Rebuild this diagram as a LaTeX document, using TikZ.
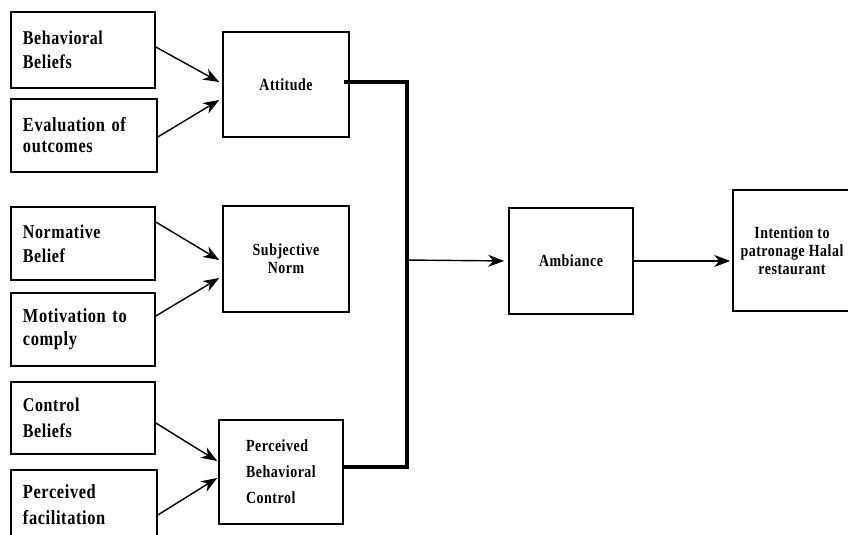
\documentclass[tikz,border=0pt]{standalone}
\usepackage{fontspec}
\newfontfamily\dgfont{Liberation Serif}[FakeStretch=0.82,LetterSpace=3]
\usetikzlibrary{arrows.meta,calc}
\tikzset{
  box/.style={draw, line width=1.6pt, rectangle, inner ysep=0pt},
  leftbox/.style={box, minimum width=#1, text width=#1-24pt, inner xsep=12pt, align=left,
     font=\dgfont\bfseries\fontsize{19.5}{24}\selectfont},
  midbox/.style={box, align=center, font=\dgfont\bfseries\fontsize{17}{18}\selectfont},
  arr/.style={line width=1.4pt, -{Stealth[length=16pt,width=12pt,inset=5pt]}},
  busline/.style={line width=3.5pt, line join=miter}
}
\begin{document}
\begin{tikzpicture}[x=1pt,y=-1pt]
\clip (0,0) rectangle (848,535);
\fill[white] (0,0) rectangle (848,535);
% left column
\node[leftbox=144pt, minimum height=76pt] (bb) at (83,50) {Behavioral\\Beliefs};
\node[leftbox=146pt, minimum height=73pt, font=\dgfont\bfseries\fontsize{20}{21}\selectfont] (eo) at (84,135.5) {Evaluation of\\outcomes};
\node[leftbox=144pt, minimum height=73pt] (nb) at (83,243.5) {Normative\\Belief};
\node[leftbox=144pt, minimum height=73pt, font=\dgfont\bfseries\fontsize{20}{23}\selectfont] (mc) at (83,329.5) {Motivation to\\comply};
\node[leftbox=144pt, minimum height=72pt, font=\dgfont\bfseries\fontsize{19.5}{26}\selectfont] (cb) at (83,418) {Control\\Beliefs};
\node[leftbox=146pt, minimum height=70pt, font=\dgfont\bfseries\fontsize{20}{26}\selectfont] (pf) at (84,505) {Perceived\\facilitation};
% middle column
\node[midbox, minimum width=126pt, minimum height=105pt] (att) at (286,84.5) {Attitude};
\node[midbox, minimum width=126pt, minimum height=106pt] (sn) at (286,259) {Subjective\\Norm};
\node[midbox, minimum width=124pt, minimum height=104pt, align=left,
      font=\dgfont\bfseries\fontsize{17}{26}\selectfont] (pbc) at (281,472) {Perceived\\Behavioral\\Control};
% right
\node[midbox, minimum width=124pt, minimum height=106pt] (amb) at (571,261) {Ambiance};
\node[midbox, minimum width=118pt, minimum height=121pt] (int) at (792,250.5) {Intention to\\patronage Halal\\restaurant};
% arrows into middle boxes
\draw[arr] ([yshift=3pt]bb.east) -- ([xshift=-3pt,yshift=2.5pt]att.west);
\draw[arr] ([yshift=-1.5pt]eo.east) -- ([xshift=-3pt,yshift=-15.5pt]att.west);
\draw[arr] ([yshift=21.5pt]nb.east) -- ([xshift=-3pt,yshift=-1pt]sn.west);
\draw[arr] ([yshift=13.5pt]mc.east) -- ([xshift=-3pt,yshift=-19pt]sn.west);
\draw[arr] ([yshift=-5pt]cb.east) -- ([xshift=-1pt,yshift=11pt]pbc.west);
\draw[arr] ([yshift=-10pt]pf.east) -- ([xshift=-1pt,yshift=-6pt]pbc.west);
% bus
\coordinate (bus) at (407,260);
\draw[busline] ([xshift=-6pt,yshift=2.5pt]att.east) -| ([yshift=5pt]pbc.east -| bus) -- ([yshift=5pt]pbc.east);
\draw[arr, shorten >=4pt] ([xshift=-2pt]bus) -- (amb.west);
\draw[arr, shorten >=2pt] (amb.east) -- (amb.east -| int.west);
\end{tikzpicture}
\end{document}
